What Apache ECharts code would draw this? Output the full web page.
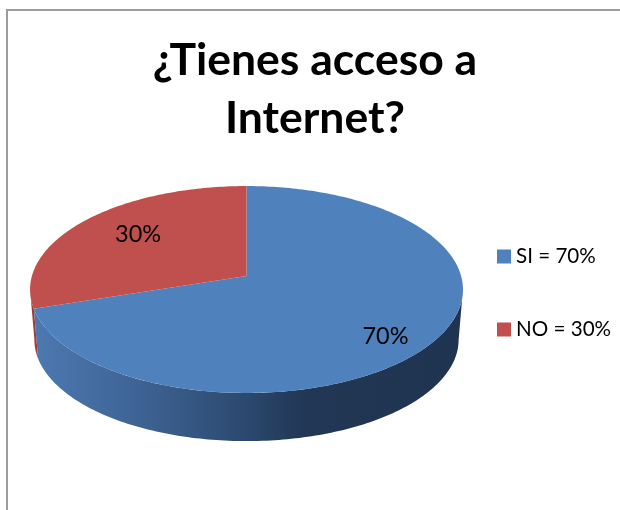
<!DOCTYPE html>
<html>
<head>
<meta charset="utf-8">
<style>html,body{margin:0;padding:0;background:#fff}#c{width:620px;height:510px}</style>
<script src="https://cdn.jsdelivr.net/npm/echarts@6/dist/echarts.min.js"></script>
</head>
<body>
<div id="c"></div>
<script>
const titleLines = ['¿Tienes acceso a', 'Internet?'];
const categories = ['SI', 'NO'];
const values = [70, 30];
const colors = ['#4f81bd', '#c0504d'];

// Layout of the tilted disc: a perspective projection of a unit circle.
const disc = { x: 246.5, y: 276, rx: 214.6, ry: 101.7, k: 0.1304, depth: 50.5, shrink: 0.98 };
const labelLayout = [
  { r: 0.8, dx: -9, dy: 9 },
  { r: 0.7, dx: 7, dy: -2 }
];
const FONT = 'Lato, Carlito, "Open Sans", sans-serif';

function project(angle, r, bottom) {
  const u = r * Math.sin(angle), v = -r * Math.cos(angle);
  const w = 1 - disc.k * v;
  const s = bottom ? disc.shrink : 1;
  return [
    disc.x + s * disc.rx * u / w,
    disc.y + (bottom ? disc.depth : 0) + s * disc.ry * v / w
  ];
}
function arc(a0, a1, bottom) {
  const n = Math.max(2, Math.ceil(Math.abs(a1 - a0) / (Math.PI / 180)));
  const pts = [];
  for (let i = 0; i <= n; i++) pts.push(project(a0 + (a1 - a0) * i / n, 1, bottom));
  return pts;
}
const total = values.reduce((a, b) => a + b, 0);
const horizon = Math.acos(-disc.k);

function wallFill(i) {
  if (i === 1) return '#9c3f3c';
  return new echarts.graphic.LinearGradient(0, 0, 1, 0, [
    { offset: 0, color: '#4c79b1' },
    { offset: 0.2, color: '#41679a' },
    { offset: 0.45, color: '#2f4e76' },
    { offset: 0.63, color: '#213755' },
    { offset: 1, color: '#1f3450' }
  ]);
}

function makeRender(i) {
  return function (params, api) {
    const before = values.slice(0, i).reduce((a, b) => a + b, 0);
    const a0 = before / total * 2 * Math.PI;
    const a1 = (before + api.value(0)) / total * 2 * Math.PI;
    const children = [];
    // side wall: only the part of the slice that faces the viewer
    const w0 = Math.max(a0, horizon), w1 = Math.min(a1, 2 * Math.PI - horizon);
    if (w1 > w0) {
      children.push({
        type: 'polygon',
        shape: { points: arc(w0, w1, false).concat(arc(w1, w0, true)) },
        style: { fill: wallFill(i) }
      });
    }
    // top face
    children.push({
      type: 'polygon',
      shape: { points: [project(0, 0, false)].concat(arc(a0, a1, false)) },
      style: { fill: colors[i] }
    });
    // data label
    const mid = (a0 + a1) / 2, L = labelLayout[i], p = project(mid, L.r, false);
    children.push({
      type: 'text',
      z2: 10,
      style: {
        text: api.value(0) + '%',
        x: p[0] + L.dx, y: p[1] + L.dy,
        align: 'center', verticalAlign: 'middle',
        font: '23.5px ' + FONT, fill: '#000'
      }
    });
    return { type: 'group', children };
  };
}

const names = categories.map((c, i) => c + ' = ' + values[i] + '%');
const chart = echarts.init(document.getElementById('c'), null, { renderer: 'canvas' });
chart.setOption({
  animation: false,
  backgroundColor: '#fff',
  color: colors,
  title: {
    text: titleLines.join('\n'),
    left: 315, top: 32, textAlign: 'center', padding: 0,
    textStyle: { fontFamily: FONT, fontWeight: 'bold', fontSize: 44.5, lineHeight: 58, color: '#000' }
  },
  legend: {
    orient: 'vertical', left: 497, top: 246, padding: 0,
    itemWidth: 14, itemHeight: 14, itemGap: 52,
    icon: 'rect', data: names,
    textStyle: { fontFamily: FONT, fontSize: 20.6, color: '#000' }
  },
  graphic: [{
    type: 'rect', silent: true, z: -1,
    shape: { x: 7, y: 10, width: 700, height: 600 },
    style: { fill: 'none', stroke: '#9c9c9c', lineWidth: 2 }
  }],
  series: categories.map((c, i) => ({
    type: 'custom',
    name: names[i],
    coordinateSystem: 'none',
    itemStyle: { color: colors[i] },
    renderItem: makeRender(i),
    data: [[values[i]]],
    silent: true
  }))
});
</script>
</body>
</html>
